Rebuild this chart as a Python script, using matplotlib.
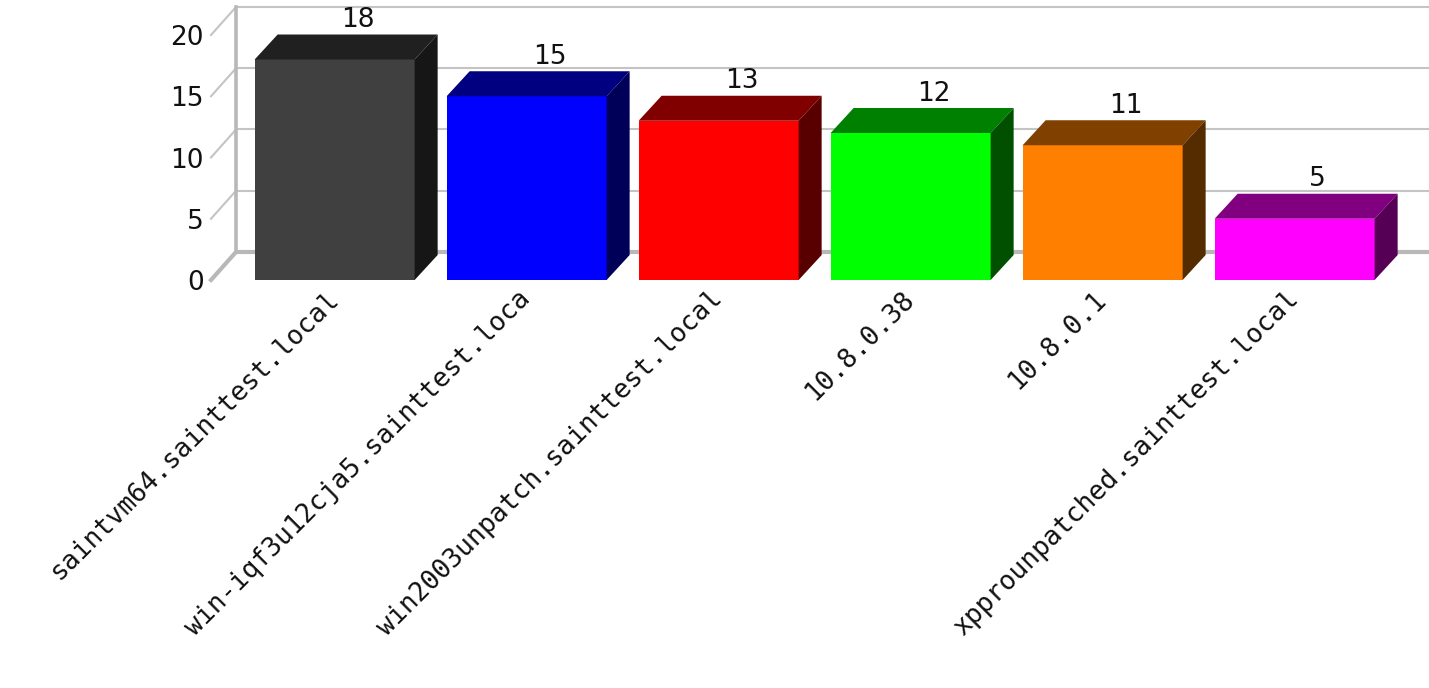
import matplotlib
matplotlib.use("Agg")
import matplotlib.pyplot as plt

hosts = [
    "saintvm64.sainttest.local",
    "win-iqf3u12cja5.sainttest.loca",
    "win2003unpatch.sainttest.local",
    "10.8.0.38",
    "10.8.0.1",
    "xpprounpatched.sainttest.local",
]
counts = [18, 15, 13, 12, 11, 5]
y_ticks = [0, 5, 10, 15, 20]

front_colors = ["#404040", "#0000ff", "#ff0000", "#00ff00", "#ff8000", "#ff00ff"]
top_colors = ["#202020", "#000080", "#800000", "#008000", "#804000", "#800080"]
side_colors = ["#161616", "#000058", "#580000", "#005000", "#552b00", "#550055"]

W, H = 1429, 688
fig = plt.figure(figsize=(W / 100, H / 100), dpi=100)
# axes box = front plane of the 3d frame, in pixels
ax_l, ax_r, ax_t, ax_b = 211, 1406, 35, 280
ax = fig.add_axes([ax_l / W, (H - ax_b) / H, (ax_r - ax_l) / W, (ax_b - ax_t) / H])
x0, x1 = -0.644, 5.58
y0, y1 = 0, 20
ax.set_xlim(x0, x1)
ax.set_ylim(y0, y1)

px_x = (ax_r - ax_l) / (x1 - x0)
px_y = (ax_b - ax_t) / (y1 - y0)

# depth offsets (pixels -> data units)
bdx, bdy = 23 / px_x, 25 / px_y
wdx, wdy = 25 / px_x, 28 / px_y

grid_c = "#c4c4c4"
# back wall + left wall grid
for v in y_ticks:
    lw = 3.0 if v == 0 else 1.5
    c = "#b8b8b8" if v == 0 else grid_c
    ax.plot([x0 + wdx, x1 + wdx + 0.2], [v + wdy, v + wdy], color=c, lw=lw,
            clip_on=False, zorder=1, solid_capstyle="butt")
    ax.plot([x0, x0 + wdx], [v, v + wdy], color=c, lw=lw, clip_on=False, zorder=1)
ax.plot([x0 + wdx, x0 + wdx], [wdy, y1 + wdy], color="#b8b8b8", lw=2.6,
        clip_on=False, zorder=1)

width = 160 / px_x
xs = list(range(len(counts)))
ax.bar(xs, counts, width=width, color=front_colors, zorder=3)
for i, v in enumerate(counts):
    l, r = i - width / 2, i + width / 2
    ax.fill([l, r, r + bdx, l + bdx], [v, v, v + bdy, v + bdy],
            color=top_colors[i], zorder=3, clip_on=False, lw=0)
    ax.fill([r, r + bdx, r + bdx, r], [0, bdy, v + bdy, v],
            color=side_colors[i], zorder=3, clip_on=False, lw=0)
    ax.annotate(str(v), (i + bdx, v + bdy), xytext=(0, 1),
                textcoords="offset points", ha="center", va="bottom",
                fontsize=19, color="#111111", zorder=4, annotation_clip=False)

for s in ax.spines.values():
    s.set_visible(False)
ax.set_yticks(y_ticks)
ax.set_yticklabels([str(t) for t in y_ticks], fontsize=19, color="#111111")
ax.set_xticks(xs)
ax.set_xticklabels(hosts, rotation=45, ha="right", va="center",
                   rotation_mode="anchor", fontsize=19, fontweight="normal",
                   family="DejaVu Sans Mono", color="#111111")
ax.tick_params(axis="y", length=0, pad=5)
ax.tick_params(axis="x", length=0, pad=11)

fig.savefig("out.png", dpi=100)
